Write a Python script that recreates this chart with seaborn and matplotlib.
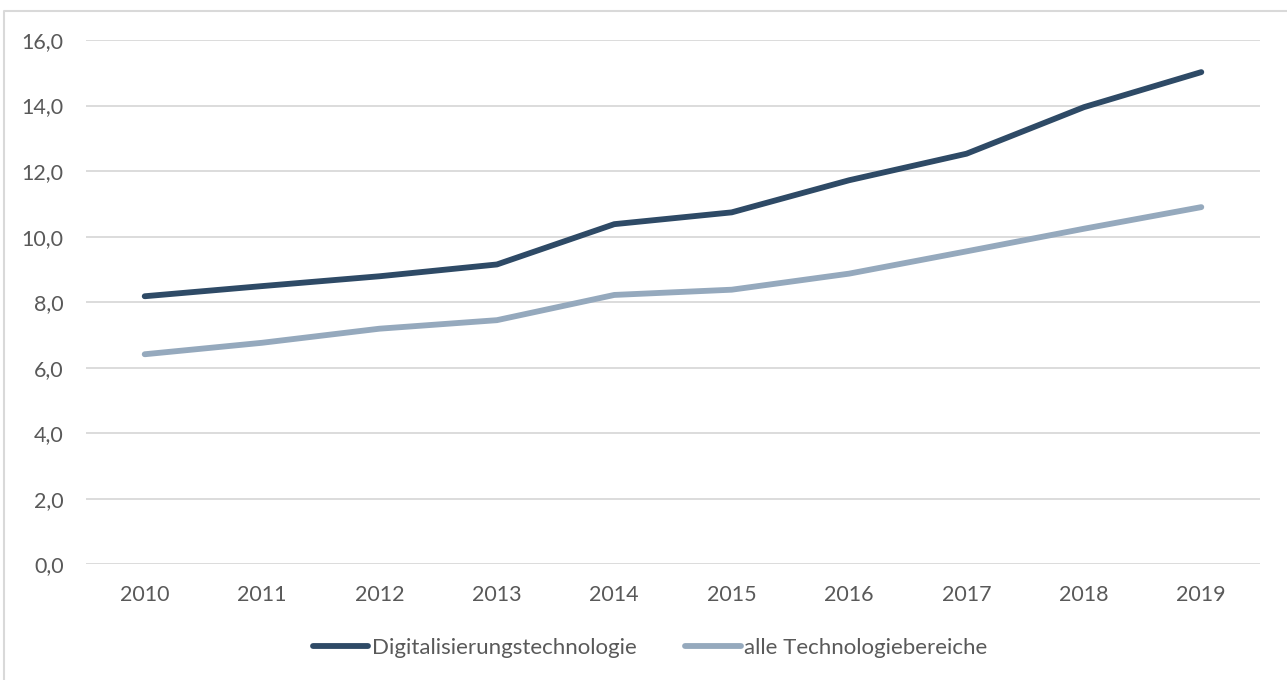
"""Line chart: Digitalisierungstechnologie vs. alle Technologiebereiche, 2010-2019."""
import matplotlib.pyplot as plt
import pandas as pd
import seaborn as sns
from matplotlib.lines import Line2D
from matplotlib.ticker import FuncFormatter

years = ["2010", "2011", "2012", "2013", "2014",
         "2015", "2016", "2017", "2018", "2019"]
digital = [8.18, 8.49, 8.79, 9.15, 10.38, 10.74, 11.72, 12.53, 13.95, 15.02]
alle = [6.41, 6.76, 7.19, 7.45, 8.22, 8.38, 8.87, 9.55, 10.24, 10.90]
series_names = ["Digitalisierungstechnologie", "alle Technologiebereiche"]
y_ticks = [0, 2, 4, 6, 8, 10, 12, 14, 16]

DARK = "#2E4A66"
LIGHT = "#95A9BD"
GRID = "#D9D9D9"
TEXT = "#595959"
FS = 15.5


def main():
    df = pd.concat([
        pd.DataFrame({"Jahr": years, "Wert": digital, "Reihe": series_names[0]}),
        pd.DataFrame({"Jahr": years, "Wert": alle, "Reihe": series_names[1]}),
    ])

    sns.set_style("white")
    plt.rcParams["font.family"] = ["Lato", "DejaVu Sans"]

    fig = plt.figure(figsize=(12.87, 6.80), dpi=100)
    ax = fig.add_axes([86 / 1287, 1 - 564.3 / 680, (1260 - 86) / 1287, (564.3 - 40) / 680])

    sns.lineplot(data=df, x="Jahr", y="Wert", hue="Reihe",
                 palette=[DARK, LIGHT], linewidth=4.2, ax=ax,
                 solid_capstyle="round", legend=False)

    ax.set_xlim(-0.5, len(years) - 0.5)
    ax.set_ylim(0, 16)
    ax.set_yticks(y_ticks)
    ax.yaxis.set_major_formatter(FuncFormatter(lambda v, _: f"{v:.1f}".replace(".", ",")))
    ax.grid(axis="y", color=GRID, linewidth=1.3)
    ax.set_axisbelow(True)
    for s in ax.spines.values():
        s.set_visible(False)
    ax.set_xlabel("")
    ax.set_ylabel("")
    ax.tick_params(axis="both", length=0, labelsize=FS, labelcolor=TEXT)
    ax.tick_params(axis="x", pad=15)
    ax.tick_params(axis="y", pad=16)

    handles = [Line2D([], [], color=c, linewidth=4.2, solid_capstyle="round")
               for c in (DARK, LIGHT)]
    fig.legend(handles, series_names, loc="center", bbox_to_anchor=(650 / 1287, 1 - 648 / 680),
               ncol=2, frameon=False, fontsize=FS + 0.5, labelcolor=TEXT,
               handlelength=2.5, handletextpad=0.15, columnspacing=2.2)

    # chart frame (only top and left edges are visible in the crop)
    fig.add_artist(Line2D([4 / 1287, 4 / 1287, 1], [0, 1 - 11 / 680, 1 - 11 / 680],
                          transform=fig.transFigure, color=GRID, linewidth=1.5))

    fig.savefig("out.png", dpi=100)
    return 0


if __name__ == "__main__":
    raise SystemExit(main())
